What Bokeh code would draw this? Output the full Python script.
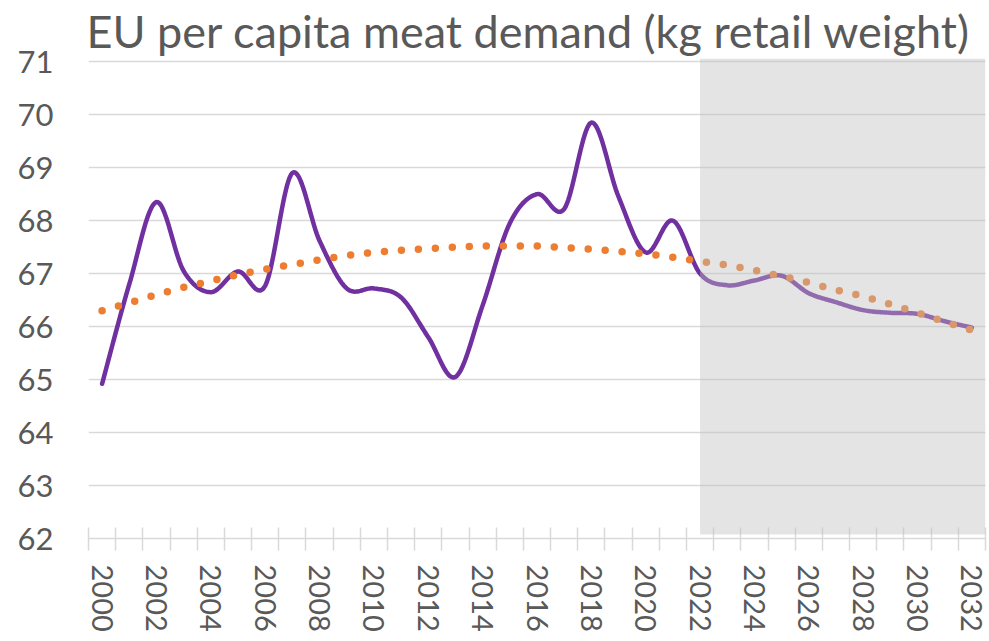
import numpy as np
from bokeh.plotting import figure
from bokeh.models import Range1d, FixedTicker, BoxAnnotation
from bokeh.embed import file_html
from bokeh.resources import INLINE

# ---- data ----
years = list(range(2000, 2033))
demand = [64.92, 66.8, 68.35, 67.05, 66.65, 67.04, 66.77, 68.9, 67.62, 66.72,
          66.72, 66.55, 65.8, 65.05, 66.4, 67.95, 68.5, 68.22, 69.85, 68.45,
          67.4, 68.0, 67.0, 66.78, 66.87, 66.96, 66.63, 66.46, 66.31, 66.26,
          66.24, 66.1, 65.98]
trend = [66.30, 66.45, 66.6, 66.74, 66.86, 66.98, 67.08, 67.17, 67.26, 67.34,
         67.4, 67.44, 67.47, 67.5, 67.52, 67.52, 67.52, 67.49, 67.46, 67.42,
         67.37, 67.31, 67.23, 67.16, 67.06, 66.95, 66.83, 66.69, 66.57, 66.42,
         66.26, 66.09, 65.93]
label_years = [str(y) for y in range(2000, 2033, 2)]
y_ticks = list(range(62, 72))
forecast_start = 2022

TEXT = "#595959"
GRID = "#d9d9d9"
FONT = "Lato"

def smooth(xs, ys, n=20):
    xs = np.asarray(xs, float); ys = np.asarray(ys, float)
    P = np.column_stack([xs, ys])
    P = np.vstack([P[0], P, P[-1]])
    out = []
    t = np.linspace(0, 1, n, endpoint=False)
    for i in range(1, len(P) - 2):
        p0, p1, p2, p3 = P[i - 1], P[i], P[i + 1], P[i + 2]
        c1 = p1 + (p2 - p0) / 6.0
        c2 = p2 - (p3 - p1) / 6.0
        b = ((1 - t) ** 3)[:, None] * p1 + (3 * (1 - t) ** 2 * t)[:, None] * c1 \
            + (3 * (1 - t) * t ** 2)[:, None] * c2 + (t ** 3)[:, None] * p2
        out.append(b)
    out.append(P[-2][None, :])
    out = np.vstack(out)
    return out[:, 0], out[:, 1]

xpos = [y - 2000 + 0.5 for y in years]

p = figure(width=989, height=640, output_backend="svg", toolbar_location=None,
           x_range=Range1d(0, len(years)), y_range=Range1d(62, 71.06),
           min_border_left=88, min_border_right=4, min_border_bottom=102,
           min_border_top=0)
p.outline_line_color = None
p.background_fill_color = "white"

p.title.text = "EU per capita meat demand (kg retail weight)"
p.title.text_font = FONT
p.title.text_font_size = "45px"
p.title.text_font_style = "normal"
p.title.text_color = TEXT
p.title.align = "left"
p.title.standoff = 2
p.title.offset = -2

# grid
p.xgrid.grid_line_color = None
p.ygrid.grid_line_color = GRID
p.ygrid.grid_line_width = 1.5

# y axis
p.yaxis.ticker = FixedTicker(ticks=y_ticks)
p.yaxis.axis_line_color = None
p.yaxis.major_tick_line_color = None
p.yaxis.minor_tick_line_color = None
p.yaxis.major_tick_out = 0
p.yaxis.major_tick_in = 0
p.yaxis.major_label_standoff = 35
p.yaxis.major_label_text_font = FONT
p.yaxis.major_label_text_font_size = "31px"
p.yaxis.major_label_text_color = TEXT

# x axis
centers = [int(s) - 2000 + 0.5 for s in label_years]
p.xaxis.ticker = FixedTicker(ticks=centers, minor_ticks=list(range(0, len(years) + 1)))
p.xaxis.major_label_overrides = {c: s for c, s in zip(centers, label_years)}
p.xaxis.major_label_orientation = "vertical"
p.xaxis.major_tick_line_color = None
p.xaxis.major_tick_out = 12
p.xaxis.major_tick_in = 0
p.xaxis.minor_tick_line_color = GRID
p.xaxis.minor_tick_line_width = 1.5
p.xaxis.minor_tick_in = 11
p.xaxis.minor_tick_out = 12
p.xaxis.axis_line_color = GRID
p.xaxis.axis_line_width = 1.5
p.xaxis.major_label_standoff = 14
p.xaxis.major_label_text_font = FONT
p.xaxis.major_label_text_font_size = "29px"
p.xaxis.major_label_text_color = TEXT

sx, sy = smooth(xpos, demand)
p.line(sx, sy, line_color="#7030A0", line_width=4.5, line_cap="round", line_join="round")

tx, ty = smooth(xpos, trend)
p.line(tx, ty, line_color="#ED7D31", line_width=7.5, line_dash="0 17", line_cap="round")

shade = BoxAnnotation(left=forecast_start - 2000 + 0.5, right=len(years),
                      bottom=62.075, top=71.06,
                      fill_color="#bfbfbf", fill_alpha=0.42, line_color=None)
p.add_layout(shade)

open("out.html", "w").write(file_html(p, INLINE))
